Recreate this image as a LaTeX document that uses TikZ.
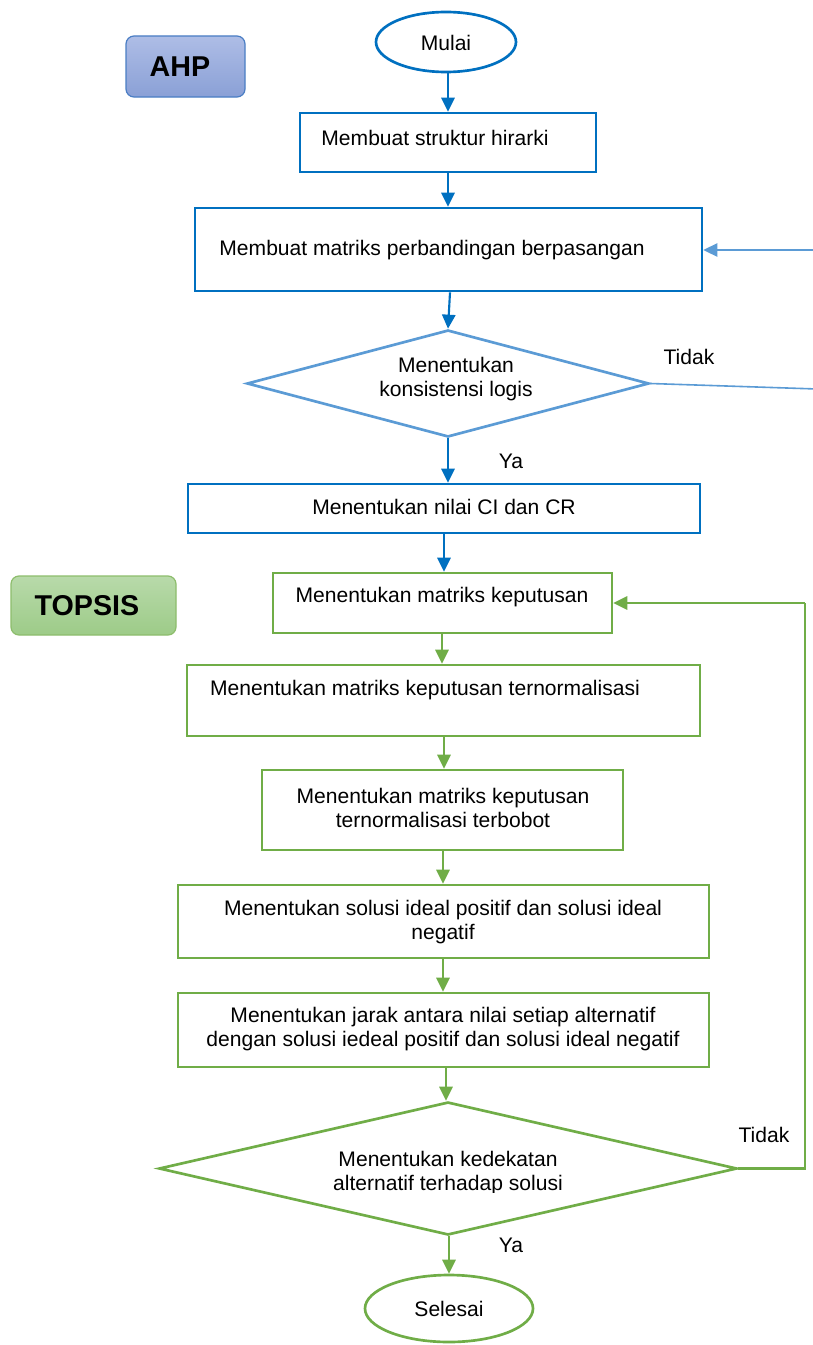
\documentclass[tikz,border=0pt]{standalone}
\usepackage{fontspec}
\setmainfont{Liberation Sans}
\usetikzlibrary{shapes.geometric,arrows.meta}
\definecolor{dblue}{HTML}{0070C0}
\definecolor{lblue}{HTML}{5B9BD5}
\definecolor{grn}{HTML}{70AD47}
\definecolor{ahpborder}{HTML}{4A7EC4}
\definecolor{ahptop}{HTML}{AEBDE6}
\definecolor{ahpbot}{HTML}{8AA0D6}
\definecolor{topstop}{HTML}{B8DAAA}
\definecolor{topsbot}{HTML}{9DCB88}
\begin{document}
\begin{tikzpicture}[x=0.75pt,y=-0.75pt,
  txt/.style={font=\fontsize{15.8}{18}\selectfont, align=center, inner sep=0pt},
  lbl/.style={font=\fontsize{15.8}{18}\selectfont, inner sep=0pt},
  tagbox/.style={rounded corners=6pt, line width=0.9pt},
  tagtxt/.style={font=\fontsize{21.5}{24}\bfseries\selectfont, inner sep=0pt},
  bbox/.style={draw=dblue, line width=2pt, fill=white, inner sep=0pt},
  gbox/.style={draw=grn, line width=2pt, fill=white, inner sep=0pt},
  barrow/.style={draw=dblue, line width=1.6pt, -{Triangle[length=10.5pt,width=10pt]}},
  larrow/.style={draw=lblue, line width=1.2pt, -{Triangle[length=10.5pt,width=10pt]}},
  garrow/.style={draw=grn, line width=1.6pt, -{Triangle[length=10.5pt,width=10pt]}},
  oval/.style={ellipse, line width=2pt, inner sep=0pt, fill=white}
]
\useasboundingbox (0,0) rectangle (813,1345);
\clip (0,0) rectangle (813,1345);
\fill[white] (0,0) rectangle (813,1345);

% tag boxes
\node[tagbox, draw=ahpborder, top color=ahptop, bottom color=ahpbot,
  minimum width={119*0.75pt}, minimum height={61*0.75pt}] (ahp) at (185.5,66.5) {};
\node[tagtxt] (tahp) at (180,67) {AHP};
\node[tagbox, draw=grn!80!white, top color=topstop, bottom color=topsbot,
  minimum width={165*0.75pt}, minimum height={59*0.75pt}] (topsis) at (93.5,605.5) {};
\node[tagtxt] (ttopsis) at (87,606) {TOPSIS};

% AHP part
\node[oval, draw=dblue, minimum width={140*0.75pt}, minimum height={60*0.75pt}] (mulai) at (446,42) {};
\node[txt] (tmulai) at (446,43) {Mulai};

\node[bbox, minimum width={296*0.75pt}, minimum height={59*0.75pt}] (b1) at (448,142.5) {};
\node[txt] (t1) at (435,138) {Membuat struktur hirarki};

\node[bbox, minimum width={507*0.75pt}, minimum height={83*0.75pt}] (b2) at (448.5,249.5) {};
\node[txt] (t2) at (432,250) {Membuat matriks perbandingan berpasangan};

\node[diamond, draw=lblue, line width=2pt, inner sep=0pt, fill=white,
  minimum width={402*0.75pt}, minimum height={107*0.75pt}] (d1) at (448,383.5) {};
\node[txt] (td1) at (456,379) {Menentukan\\konsistensi logis};

\node[bbox, minimum width={512*0.75pt}, minimum height={49*0.75pt}] (b3) at (444,508.5) {};
\node[txt] (t3) at (444,507) {Menentukan nilai CI dan CR};

% TOPSIS part
\node[gbox, minimum width={339*0.75pt}, minimum height={60*0.75pt}] (b4) at (442.5,603) {};
\node[txt] (t4) at (442,597) {Menentukan matriks keputusan};

\node[gbox, minimum width={513*0.75pt}, minimum height={71*0.75pt}] (b5) at (443.5,700.5) {};
\node[txt] (t5) at (425,690) {Menentukan matriks keputusan ternormalisasi};

\node[gbox, minimum width={361*0.75pt}, minimum height={80*0.75pt}] (b6) at (442.5,810) {};
\node[txt] (t6) at (443,808) {Menentukan matriks keputusan\\ternormalisasi terbobot};

\node[gbox, minimum width={531*0.75pt}, minimum height={73*0.75pt}] (b7) at (443.5,921.5) {};
\node[txt] (t7) at (443,922) {Menentukan solusi ideal positif dan solusi ideal\\negatif};

\node[gbox, minimum width={531*0.75pt}, minimum height={74*0.75pt}] (b8) at (443.5,1030) {};
\node[txt] (t8) at (443,1029) {Menentukan jarak antara nilai setiap alternatif\\dengan solusi iedeal positif dan solusi ideal negatif};

\node[diamond, draw=grn, line width=2pt, inner sep=0pt, fill=white,
  minimum width={578*0.75pt}, minimum height={133*0.75pt}] (d2) at (448,1168.5) {};
\begin{scope}
\clip (300,1140) rectangle (600,1192);
\node[txt] (td2) at (448,1173) {Menentukan kedekatan\\alternatif terhadap solusi};
\end{scope}

\node[oval, draw=grn, minimum width={168*0.75pt}, minimum height={67*0.75pt}] (selesai) at (449,1308.5) {};
\node[txt] (tsel) at (449,1309) {Selesai};

% labels
\node[lbl] (tidak1) at (689,357) {Tidak};
\node[lbl] (ya1) at (511,461) {Ya};
\node[lbl] (tidak2) at (764,1135) {Tidak};
\node[lbl] (ya2) at (511,1245) {Ya};

% connectors AHP
\draw[barrow] (mulai.south -| 448,0) -- (448,0 |- b1.north);
\draw[barrow] (b1.south -| 448,0) -- (448,0 |- b2.north);
\draw[barrow] (b2.south -| 450,0) -- (d1.north);
\draw[barrow] (d1.south) -- (448,0 |- b3.north);
\draw[barrow] (b3.south -| 444,0) -- (444,0 |- b4.north);

\coordinate (r1) at (817,389);
\coordinate (r2) at (817,250);
\draw[lblue, line width=1.2pt] (d1.east) -- (r1) -- (r2);
\draw[larrow] (r2) -- (b2.east |- r2);

% connectors TOPSIS
\draw[garrow] (b4.south -| 442,0) -- (442,0 |- b5.north);
\draw[garrow] (b5.south -| 444,0) -- (444,0 |- b6.north);
\draw[garrow] (b6.south -| 443,0) -- (443,0 |- b7.north);
\draw[garrow] (b7.south -| 443,0) -- (443,0 |- b8.north);
\draw[garrow] (b8.south -| 446,0) -- (446,0 |- d2.north);
\draw[garrow] (d2.south -| 449,0) -- (selesai.north);

\coordinate (g1) at (805,1168.5);
\coordinate (g2) at (805,603);
\draw[grn, line width=1.6pt] (d2.east) -- (g1) -- (g2);
\draw[garrow] (g2) -- (b4.east |- g2);
\end{tikzpicture}
\end{document}
